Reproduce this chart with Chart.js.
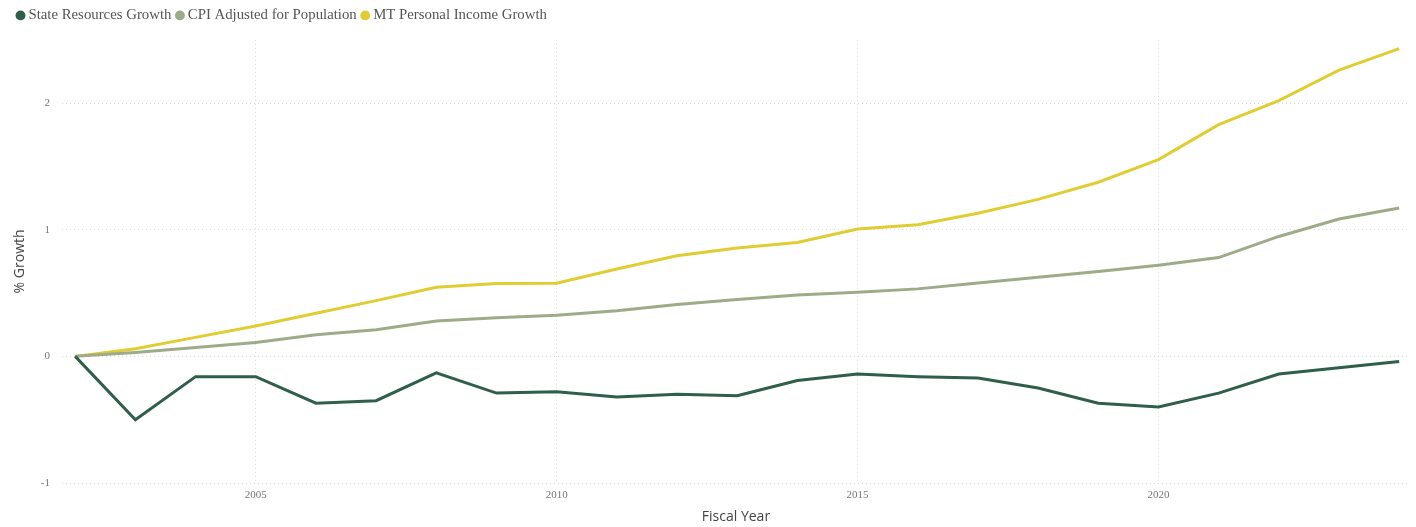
<!DOCTYPE html>
<html>
<head>
<meta charset="utf-8">
<script src="https://cdn.jsdelivr.net/npm/chart.js@4.4.1/dist/chart.umd.min.js"></script>
<style>
  html, body { margin: 0; padding: 0; background: #fff; }
  #wrap { position: relative; width: 1416px; height: 527px; }
</style>
</head>
<body>
<div id="wrap"><canvas id="growthChart"></canvas></div>
<script>
  const YEARS = [2002, 2003, 2004, 2005, 2006, 2007, 2008, 2009, 2010, 2011, 2012, 2013,
    2014, 2015, 2016, 2017, 2018, 2019, 2020, 2021, 2022, 2023, 2024];

  const STATE_RESOURCES = [0, -0.50, -0.16, -0.16, -0.37, -0.35, -0.13, -0.29, -0.28, -0.32, -0.30, -0.31,
    -0.19, -0.14, -0.16, -0.17, -0.25, -0.37, -0.40, -0.29, -0.14, -0.09, -0.04];

  const CPI_POP = [0, 0.03, 0.07, 0.11, 0.17, 0.21, 0.28, 0.305, 0.325, 0.36, 0.41, 0.45,
    0.485, 0.507, 0.533, 0.58, 0.625, 0.67, 0.72, 0.78, 0.947, 1.085, 1.172];

  const MT_INCOME = [0, 0.06, 0.15, 0.24, 0.34, 0.44, 0.546, 0.575, 0.578, 0.69, 0.794, 0.855,
    0.90, 1.005, 1.04, 1.13, 1.24, 1.375, 1.554, 1.83, 2.02, 2.26, 2.43];

  const X_TICKS = [2005, 2010, 2015, 2020];
  const Y_TICKS = [-1, 0, 1, 2];

  const SERIES = [
    { label: 'State Resources Growth', data: STATE_RESOURCES, color: '#2f5e4a' },
    { label: 'CPI Adjusted for Population', data: CPI_POP, color: '#9eab88' },
    { label: 'MT Personal Income Growth', data: MT_INCOME, color: '#e0cd32' },
  ];

  const gridDots = { color: '#d9d9d9', lineWidth: 1, drawTicks: false };

  // extra room under the legend
  const legendGap = {
    id: 'legendGap',
    beforeInit(chart) {
      const fit = chart.legend.fit;
      chart.legend.fit = function () {
        fit.bind(chart.legend)();
        this.height += 7;
      };
    },
  };

  new Chart(document.getElementById('growthChart').getContext('2d'), {
    type: 'line',
    data: {
      datasets: SERIES.map(s => ({
        label: s.label,
        data: YEARS.map((y, i) => ({ x: y, y: s.data[i] })),
        borderColor: s.color,
        backgroundColor: s.color,
        borderWidth: 3,
        pointRadius: 0,
        tension: 0,
        fill: false,
      })),
    },
    options: {
      responsive: true,
      maintainAspectRatio: false,
      animation: false,
      layout: { padding: { left: 12, right: 6, top: 0, bottom: 2 } },
      plugins: {
        legend: {
          position: 'top',
          align: 'start',
          labels: {
            usePointStyle: true,
            pointStyle: 'circle',
            boxWidth: 1,
            boxHeight: 7,
            padding: 8,
            color: '#555',
            font: { family: "'Liberation Serif'", size: 14.8 },
            generateLabels: chart => Chart.defaults.plugins.legend.labels.generateLabels(chart)
              .map(item => ({ ...item, lineWidth: 0 })),
          },
        },
        tooltip: { enabled: false },
      },
      scales: {
        x: {
          type: 'linear',
          min: 2001.78,
          max: 2024.18,
          afterBuildTicks: axis => { axis.ticks = X_TICKS.map(v => ({ value: v })); },
          ticks: {
            color: '#777',
            font: { family: "'Liberation Serif'", size: 11 },
            padding: 6,
            maxRotation: 0,
            callback: v => String(v),
          },
          grid: gridDots,
          border: { display: false, dash: [1, 3] },
          title: {
            display: true,
            text: 'Fiscal Year',
            color: '#444',
            font: { family: "'Open Sans'", size: 14 },
            padding: { top: 0, bottom: 0 },
          },
        },
        y: {
          min: -1,
          max: 2.5,
          afterBuildTicks: axis => { axis.ticks = Y_TICKS.map(v => ({ value: v })); },
          ticks: {
            color: '#777',
            font: { family: "'Liberation Serif'", size: 11 },
            padding: 12,
          },
          grid: gridDots,
          border: { display: false, dash: [1, 3] },
          title: {
            display: true,
            text: '% Growth',
            color: '#444',
            font: { family: "'Open Sans'", size: 14 },
            padding: { top: 0, bottom: 0 },
          },
        },
      },
    },
    plugins: [legendGap],
  });
</script>
</body>
</html>
